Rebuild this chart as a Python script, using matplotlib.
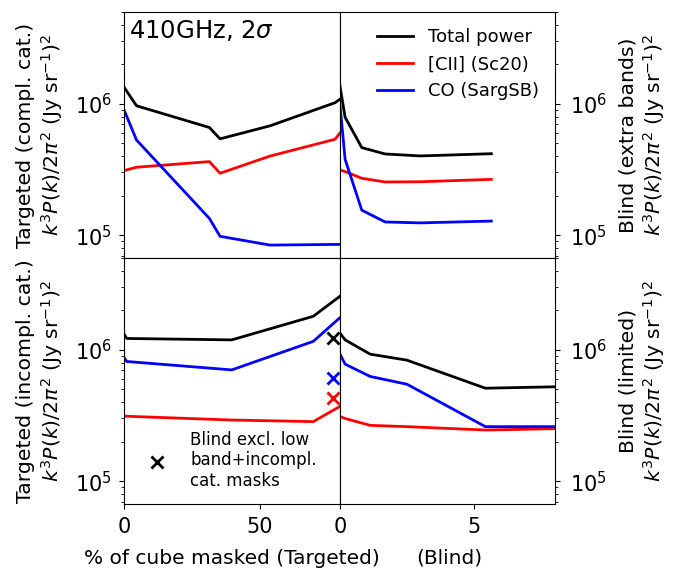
import matplotlib
matplotlib.use('Agg')
import matplotlib.pyplot as plt

# % of cube masked, targeted strategy
x_targ_compl = [0, 4.6, 31.4, 35.3, 53.7, 77.6, 79.3]
tot_targ_compl = [1.34e6, 9.66e5, 6.6e5, 5.41e5, 6.8e5, 1.02e6, 1.08e6]
cii_targ_compl = [3.1e5, 3.29e5, 3.63e5, 2.96e5, 4.0e5, 5.37e5, 5.97e5]
co_targ_compl = [9.0e5, 5.3e5, 1.34e5, 9.8e4, 8.4e4, 8.5e4, 8.5e4]

x_targ_incompl = [0, 1.0, 39.6, 69.6, 79.3]
tot_targ_incompl = [1.32e6, 1.22e6, 1.19e6, 1.8e6, 2.55e6]
cii_targ_incompl = [3.13e5, 3.12e5, 2.92e5, 2.84e5, 3.7e5]
co_targ_incompl = [8.75e5, 8.15e5, 7.03e5, 1.16e6, 1.75e6]

# blind excl. low band + incompl. cat. masks
x_cross = [76.9, 76.9, 76.9]
y_cross = [1.22e6, 4.33e5, 6.08e5]
c_cross = ['k', 'r', 'b']

# % of cube masked, blind strategy
x_blind_extra = [0, 0.19, 0.81, 1.68, 2.99, 5.63]
tot_blind_extra = [1.36e6, 7.9e5, 4.64e5, 4.15e5, 4.01e5, 4.17e5]
cii_blind_extra = [3.13e5, 3.05e5, 2.71e5, 2.54e5, 2.55e5, 2.66e5]
co_blind_extra = [9.8e5, 3.78e5, 1.55e5, 1.26e5, 1.24e5, 1.28e5]

x_blind_lim = [0, 0.19, 1.12, 2.49, 5.41, 8.02]
tot_blind_lim = [1.34e6, 1.19e6, 9.27e5, 8.34e5, 5.1e5, 5.23e5]
cii_blind_lim = [3.1e5, 3.0e5, 2.66e5, 2.6e5, 2.45e5, 2.51e5]
co_blind_lim = [9.27e5, 7.78e5, 6.27e5, 5.47e5, 2.6e5, 2.6e5]

labels = ['Total power', '[CII] (Sc20)', 'CO (SargSB)']
unit = '\n' + r'$k^3P(k)/2\pi^2$ (Jy sr$^{-1}$)$^2$'

fs = 14.5
plt.rcParams['font.size'] = fs
plt.rcParams['xtick.labelsize'] = 15
plt.rcParams['ytick.labelsize'] = 15
plt.rcParams['xtick.major.pad'] = 6

fig = plt.figure(figsize=(6.76, 5.69), dpi=100)
W, H = 676., 569.
xl, xm, xr = 124, 340, 555
yt, ym, yb = 12, 258, 504
ax_tl = fig.add_axes([xl/W, 1-ym/H, (xm-xl)/W, (ym-yt)/H])
ax_tr = fig.add_axes([xm/W, 1-ym/H, (xr-xm)/W, (ym-yt)/H])
ax_bl = fig.add_axes([xl/W, 1-yb/H, (xm-xl)/W, (yb-ym)/H])
ax_br = fig.add_axes([xm/W, 1-yb/H, (xr-xm)/W, (yb-ym)/H])

lw = 2
def draw(ax, x, tot, cii, co):
    ax.plot(x, tot, 'k-', lw=lw, label=labels[0])
    ax.plot(x, cii, 'r-', lw=lw, label=labels[1])
    ax.plot(x, co, 'b-', lw=lw, label=labels[2])

draw(ax_tl, x_targ_compl, tot_targ_compl, cii_targ_compl, co_targ_compl)
draw(ax_tr, x_blind_extra, tot_blind_extra, cii_blind_extra, co_blind_extra)
draw(ax_bl, x_targ_incompl, tot_targ_incompl, cii_targ_incompl, co_targ_incompl)
draw(ax_br, x_blind_lim, tot_blind_lim, cii_blind_lim, co_blind_lim)

for xc, yc, cc in zip(x_cross, y_cross, c_cross):
    ax_bl.plot(xc, yc, 'x', color=cc, ms=9, mew=2)
h_cross, = ax_bl.plot([], [], 'kx', ms=9, mew=2,
                      label='Blind excl. low\nband+incompl.\ncat. masks')
ax_bl.legend(handles=[h_cross], loc='lower left', bbox_to_anchor=(0.005, -0.005),
             frameon=False, fontsize=12, handletextpad=1.0)

ax_tr.legend(loc='upper right', frameon=False, fontsize=13,
             bbox_to_anchor=(1.0, 1.0))

for ax in [ax_tl, ax_tr, ax_bl, ax_br]:
    ax.set_yscale('log')
    ax.set_ylim(6.7e4, 5e6)

for ax in [ax_tl, ax_bl]:
    ax.set_xlim(0, 79.4)
    ax.set_xticks([0, 50])
    ax.tick_params(axis='y', which='major', pad=5)
for ax in [ax_tr, ax_br]:
    ax.set_xlim(0, 8)
    ax.set_xticks([0, 5])
    ax.yaxis.tick_right()
    ax.yaxis.set_label_position('right')
    ax.tick_params(axis='y', which='major', pad=7)

for ax in [ax_tl, ax_tr]:
    ax.tick_params(axis='x', bottom=False, labelbottom=False)

yfs = 14.7
ax_tl.set_ylabel('Targeted (compl. cat.)' + unit, fontsize=yfs, labelpad=7)
ax_bl.set_ylabel('Targeted (incompl. cat.)' + unit, fontsize=yfs, labelpad=7)
ax_tr.set_ylabel('Blind (extra bands)' + unit, fontsize=yfs, labelpad=8.5)
ax_br.set_ylabel('Blind (limited)' + unit, fontsize=yfs, labelpad=8.5)

ax_tl.text(0.025, 0.975, r'410GHz, 2$\sigma$', transform=ax_tl.transAxes,
           ha='left', va='top', fontsize=17.5)

fig.text(84/W, 1-564/H, '% of cube masked (Targeted)', ha='left', va='baseline', fontsize=fs)
fig.text(416/W, 1-564/H, '(Blind)', ha='left', va='baseline', fontsize=fs)

fig.savefig('out.png', dpi=100)
